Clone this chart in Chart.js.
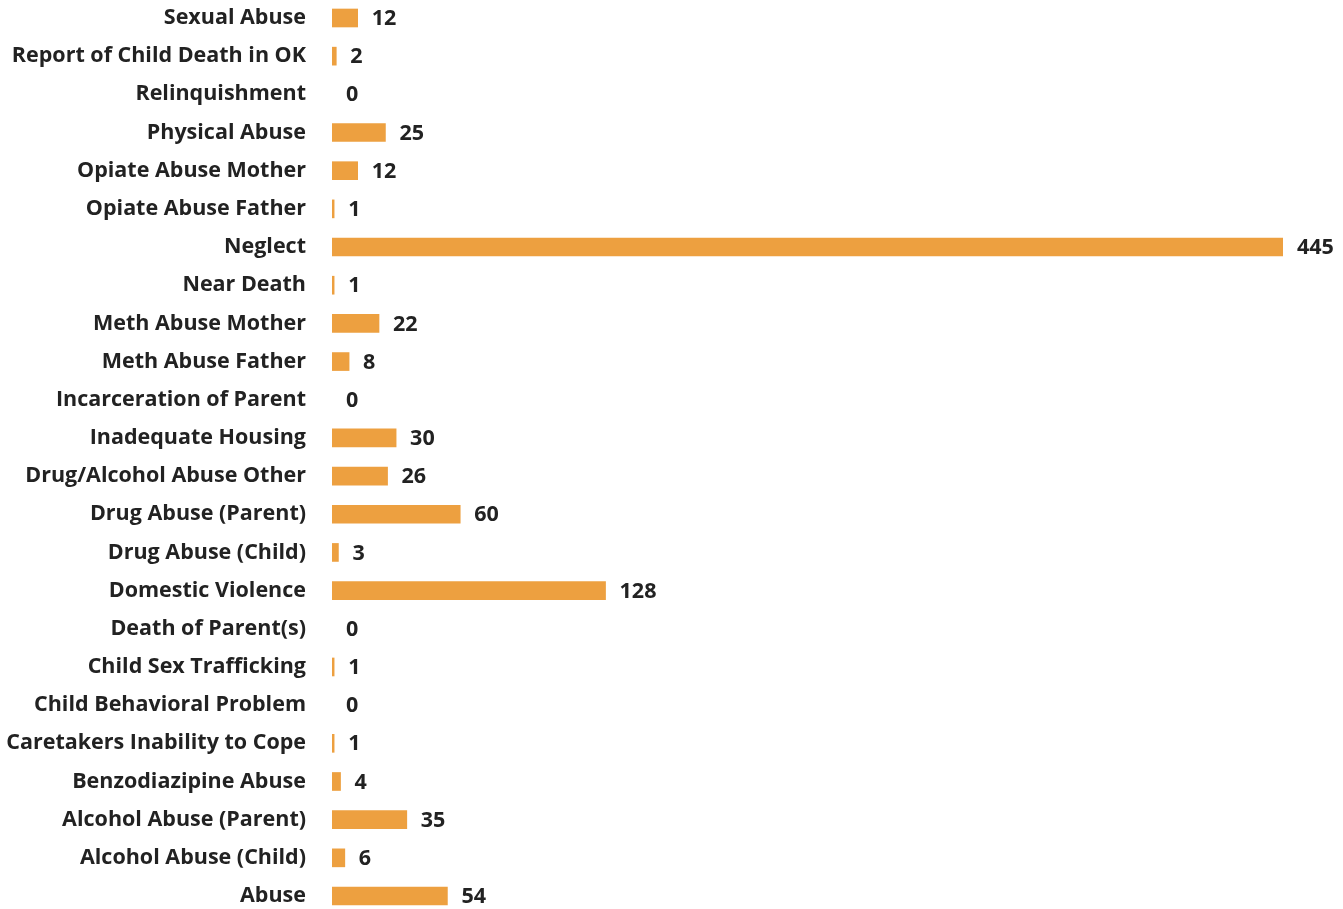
<!DOCTYPE html>
<html>
<head>
<meta charset="utf-8">
<script src="https://cdn.jsdelivr.net/npm/chart.js@4.4.0/dist/chart.umd.min.js"></script>
<style>
  html,body{margin:0;padding:0;background:#fff;overflow:hidden;}
  #wrap{position:absolute;left:0;top:-32px;width:1343px;height:978px;}
</style>
</head>
<body>
<div id="wrap"><canvas id="c"></canvas></div>
<script>
// categories top-to-bottom as shown
const CATEGORIES = ["Sexual Abuse","Report of Child Death in OK","Relinquishment","Physical Abuse",
  "Opiate Abuse Mother","Opiate Abuse Father","Neglect","Near Death","Meth Abuse Mother",
  "Meth Abuse Father","Incarceration of Parent","Inadequate Housing","Drug/Alcohol Abuse Other",
  "Drug Abuse (Parent)","Drug Abuse (Child)","Domestic Violence","Death of Parent(s)",
  "Child Sex Trafficking","Child Behavioral Problem","Caretakers Inability to Cope",
  "Benzodiazipine Abuse","Alcohol Abuse (Parent)","Alcohol Abuse (Child)","Abuse"];
const COUNTS = [12,2,0,25,12,1,445,1,22,8,0,30,26,60,3,128,0,1,0,1,4,35,6,54];

const BAR_COLOR = "#eda040";
const TEXT_COLOR = "#222222";
const FONT = "'Open Sans', sans-serif";

// value labels to the right of each bar
const valueLabels = {
  id:"valueLabels",
  afterDatasetsDraw(chart){
    const ctx = chart.ctx, meta = chart.getDatasetMeta(0);
    ctx.save();
    ctx.font = "bold 21.5px " + FONT;
    ctx.fillStyle = TEXT_COLOR;
    ctx.textAlign = "left"; ctx.textBaseline = "middle";
    meta.data.forEach((bar,i)=>{
      ctx.fillText(String(COUNTS[i]), bar.x + 14, bar.y + 1);
    });
    ctx.restore();
  }
};

new Chart(document.getElementById("c"), {
  type:"bar",
  data:{ labels:CATEGORIES, datasets:[{ data:COUNTS,
    backgroundColor:(ctx)=> COUNTS[ctx.dataIndex] === 0 ? "rgba(0,0,0,0)" : BAR_COLOR,
    barThickness:18, borderWidth:0 }] },
  options:{
    indexAxis:"y", responsive:true, maintainAspectRatio:false, animation:false,
    layout:{ padding:{ left:0, right:60, top:0, bottom:0 } },
    plugins:{ legend:{display:false}, tooltip:{enabled:false} },
    scales:{
      x:{ min:0, max:445, display:false },
      y:{ grid:{display:false}, border:{display:false},
          ticks:{ color:TEXT_COLOR, padding:18, font:{family:FONT, size:21.5, weight:"bold"}, autoSkip:false },
          afterFit(scale){ scale.width = 332; } }
    }
  },
  plugins:[valueLabels]
});
</script>
</body>
</html>
